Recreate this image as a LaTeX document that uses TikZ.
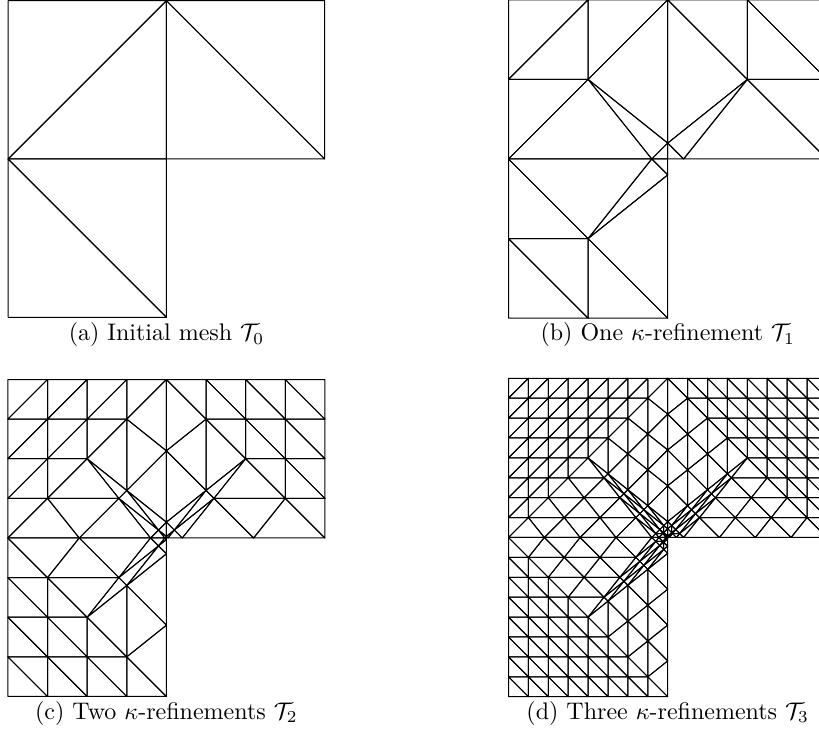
\documentclass[tikz,border=0pt]{standalone}
\makeatletter
\newdimen\mtex \newdimen\mtey
% point on the edge (#1,#2)-(#3,#4): the midpoint, or the kappa point if one end is the corner
\newcommand\mtedge[4]{%
  \def\mtca{0}\def\mtcb{0}%
  \ifdim#1=0pt \ifdim#2=0pt \def\mtca{1}\fi\fi
  \ifdim#3=0pt \ifdim#4=0pt \def\mtcb{1}\fi\fi
  \ifnum\mtca=1
    \mtex=#3\relax \mtey=#4\relax \divide\mtex by 10 \divide\mtey by 10
  \else\ifnum\mtcb=1
    \mtex=#1\relax \mtey=#2\relax \divide\mtex by 10 \divide\mtey by 10
  \else
    \mtex=#1\relax \advance\mtex by #3\relax \divide\mtex by 2
    \mtey=#2\relax \advance\mtey by #4\relax \divide\mtey by 2
  \fi\fi}
\newcommand\meshtri[7]{%
  \ifnum#1=0
    \draw[meshline] (#2,#3)--(#4,#5)--(#6,#7)--cycle;
  \else
    \begingroup
    \mtedge{#2}{#3}{#4}{#5}\edef\mpx{\the\mtex}\edef\mpy{\the\mtey}%
    \mtedge{#4}{#5}{#6}{#7}\edef\mqx{\the\mtex}\edef\mqy{\the\mtey}%
    \mtedge{#6}{#7}{#2}{#3}\edef\mrx{\the\mtex}\edef\mry{\the\mtey}%
    \edef\mtn{\number\numexpr#1-1\relax}%
    \edef\mtcalls{%
      \noexpand\meshtri{\mtn}{#2}{#3}{\mpx}{\mpy}{\mrx}{\mry}%
      \noexpand\meshtri{\mtn}{#4}{#5}{\mqx}{\mqy}{\mpx}{\mpy}%
      \noexpand\meshtri{\mtn}{#6}{#7}{\mrx}{\mry}{\mqx}{\mqy}%
      \noexpand\meshtri{\mtn}{\mpx}{\mpy}{\mqx}{\mqy}{\mrx}{\mry}}%
    \mtcalls
    \endgroup
  \fi}
\newcommand\lmesh[1]{%
  \meshtri{#1}{-160pt}{0pt}{-160pt}{160pt}{0pt}{160pt}%
  \meshtri{#1}{-160pt}{0pt}{0pt}{160pt}{0pt}{0pt}%
  \meshtri{#1}{0pt}{160pt}{160pt}{0pt}{0pt}{0pt}%
  \meshtri{#1}{0pt}{160pt}{160pt}{160pt}{160pt}{0pt}%
  \meshtri{#1}{-160pt}{0pt}{0pt}{0pt}{0pt}{-160pt}%
  \meshtri{#1}{-160pt}{0pt}{-160pt}{-160pt}{0pt}{-160pt}}
\makeatother
\tikzset{
  meshline/.style={line width=1pt,line join=round,black},
  captiontext/.style={inner sep=0pt,anchor=base,scale=2.4,transform shape,font=\fontsize{10}{12}\selectfont}
}
\begin{document}
\begin{tikzpicture}[x=1pt,y=1pt]
\useasboundingbox (0,0) rectangle (819,731);
\clip (0,0) rectangle (819,731);
\begin{scope}[shift={(166.4,572)},scale=0.9894]\lmesh{0}\end{scope}
\begin{scope}[shift={(667.7,572)},scale=0.9950]\lmesh{1}\end{scope}
\begin{scope}[shift={(166.4,193)},scale=0.9906]\lmesh{2}\end{scope}
\begin{scope}[shift={(667.7,193.5)},scale=0.9950]\lmesh{3}\end{scope}
\node[captiontext] (capa) at (166.4,390) {(a) Initial mesh $\mathcal{T}_0$};
\node[captiontext] (capb) at (667.7,390) {(b) One $\kappa$-refinement $\mathcal{T}_1$};
\node[captiontext] (capc) at (166.4,12) {(c) Two $\kappa$-refinements $\mathcal{T}_2$};
\node[captiontext] (capd) at (667.7,12) {(d) Three $\kappa$-refinements $\mathcal{T}_3$};
\end{tikzpicture}
\end{document}
